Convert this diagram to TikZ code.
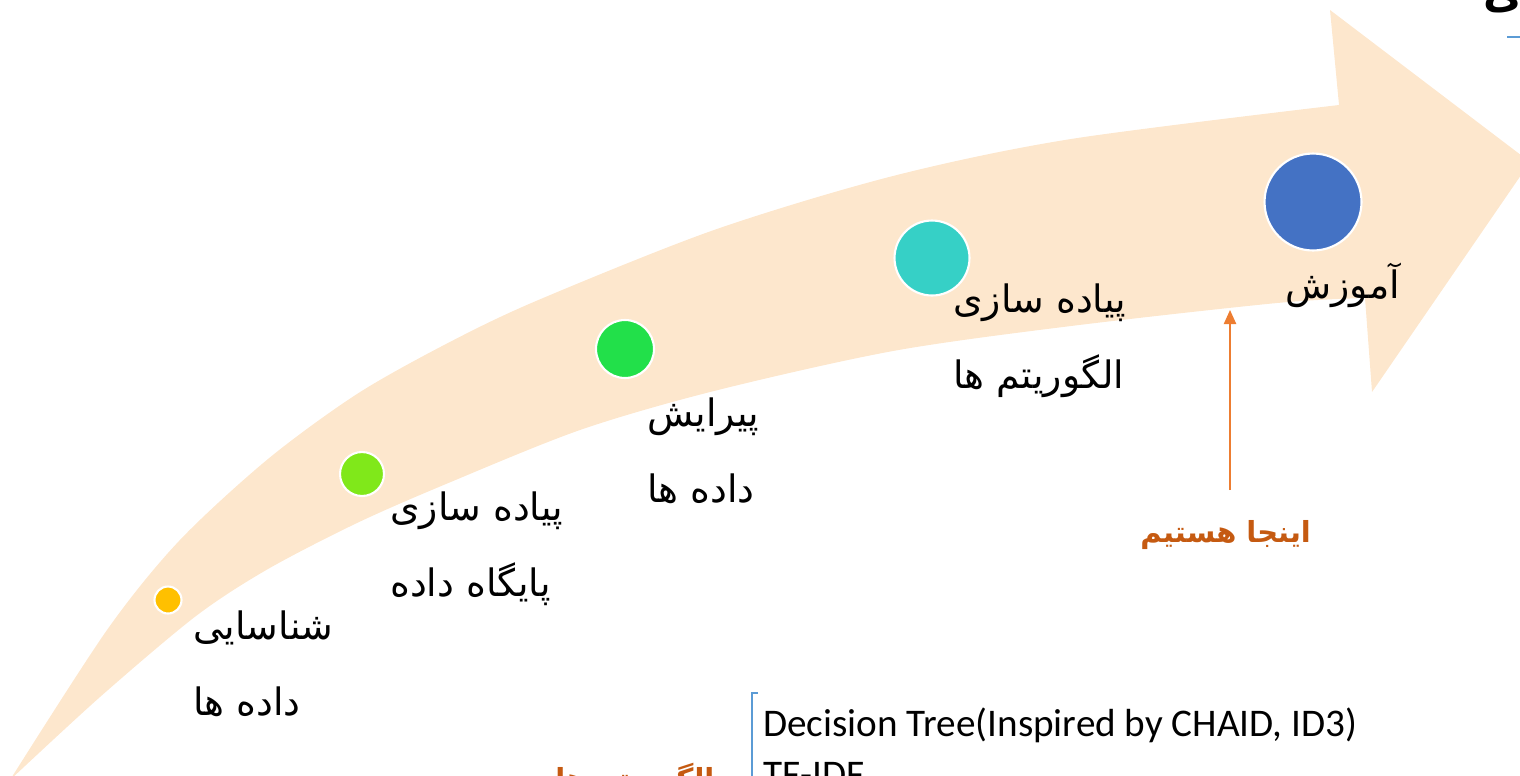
\documentclass[tikz,border=0pt]{standalone}
\usepackage{fontspec}
\newfontfamily\arabicfont[Script=Arabic]{DejaVu Sans}
\newfontfamily\latinfont{Carlito}
\TeXXeTstate=1
\usepackage{xcolor}
\definecolor{bandfill}{RGB}{253,231,205}
\definecolor{stepyellow}{RGB}{255,192,0}
\definecolor{steplime}{RGB}{128,232,26}
\definecolor{stepgreen}{RGB}{34,224,74}
\definecolor{stepteal}{RGB}{54,208,198}
\definecolor{stepblue}{RGB}{68,114,196}
\definecolor{hereorange}{RGB}{197,90,17}
\definecolor{arroworange}{RGB}{237,125,49}
\definecolor{linkblue}{RGB}{91,155,213}
\usetikzlibrary{arrows.meta,positioning}

\begin{document}
\begin{tikzpicture}[x=0.02cm,y=-0.02cm,
    stepdot/.style={circle,draw=white,line width=1.2pt,inner sep=0pt},
    steplabel/.style={anchor=base west,align=left,inner sep=0pt,
      font=\arabicfont\fontsize{21.5}{42.7}\selectfont},
    herelabel/.style={anchor=base west,inner sep=0pt,text=hereorange,
      font=\arabicfont\bfseries\fontsize{16.5}{20}\selectfont}]
    % Frame
    \useasboundingbox (0,0) rectangle (1520,775);
    \clip (0,0) rectangle (1520,775);
    % Curved arrow band
    \fill[bandfill] plot[smooth] coordinates {(10,780) (107,630) (179,541) (268,459) (357,394) (446,344) (536,301) (714,230) (893,176) (1071,139) (1339,105)}
        -- (1330,10) -- (1530,162) -- (1372,392) -- (1365,298)
        -- plot[smooth] coordinates {(1365,298) (1277,303) (1071,326) (893,351) (714,391) (580,430) (446,484) (357,523) (268,569) (196,616) (100,697) (10,780)}
        -- cycle;
    % Steps
    \node[stepdot,fill=stepyellow,minimum size=27pt*0.569] (idDot) at (168,600) {};
    \node[stepdot,fill=steplime,minimum size=44pt*0.569] (dbDot) at (362,474) {};
    \node[stepdot,fill=stepgreen,minimum size=58pt*0.569] (prepDot) at (625,349) {};
    \node[stepdot,fill=stepteal,minimum size=75pt*0.569] (algDot) at (932,258) {};
    \node[stepdot,fill=stepblue,minimum size=97pt*0.569] (trainDot) at (1313,202) {};
    % Step labels (anchored on the last line)
    \node[steplabel] (idLabel) at (193,715) {\beginR شناسایی\endR\\\beginR داده ها\endR};
    \node[steplabel] (dbLabel) at (390,596) {\beginR پیاده سازی\endR\\\beginR پایگاه داده\endR};
    \node[steplabel] (prepLabel) at (647,502) {\beginR پیرایش\endR\\\beginR داده ها\endR};
    \node[steplabel] (algLabel) at (953,388) {\beginR پیاده سازی\endR\\\beginR الگوریتم ها\endR};
    \node[steplabel] (trainLabel) at (1285,298) {\beginR آموزش\endR};
    % We are here
    \node[herelabel] (hereLabel) at (1140,542) {\beginR اینجا هستیم\endR};
    \coordinate (hereStart) at (1230,490);
    \coordinate (hereTip) at (1230,310);
    \draw[arroworange,line width=0.9pt,-{Triangle[length=8pt,width=7pt]}] (hereStart) -- (hereTip);
    % Algorithms list
    \node[herelabel] (algHead) at (555,789) {\beginR الگوریتم ها\endR};
    \coordinate (braceTop) at (758,693);
    \coordinate (braceCorner) at (752,693);
    \coordinate (braceEnd) at (752,790);
    \draw[linkblue,line width=0.7pt] (braceTop) -- (braceCorner) -- (braceEnd);
    \node[anchor=base west,align=left,inner sep=0pt,
      font=\latinfont\fontsize{22.3}{28.5}\selectfont] (algList) at (763,787)
      {Decision Tree(Inspired by CHAID, ID3)\\TF-IDF};
    % Title fragment
    \node[anchor=base west,inner sep=0pt,font=\arabicfont\bfseries\fontsize{24}{24}\selectfont] (titleEnd) at (1483,8) {\beginR ی\endR};
    \coordinate (ruleStart) at (1507,37);
    \coordinate (ruleEnd) at (1530,37);
    \draw[linkblue,line width=1.6pt] (ruleStart) -- (ruleEnd);
\end{tikzpicture}
\end{document}
